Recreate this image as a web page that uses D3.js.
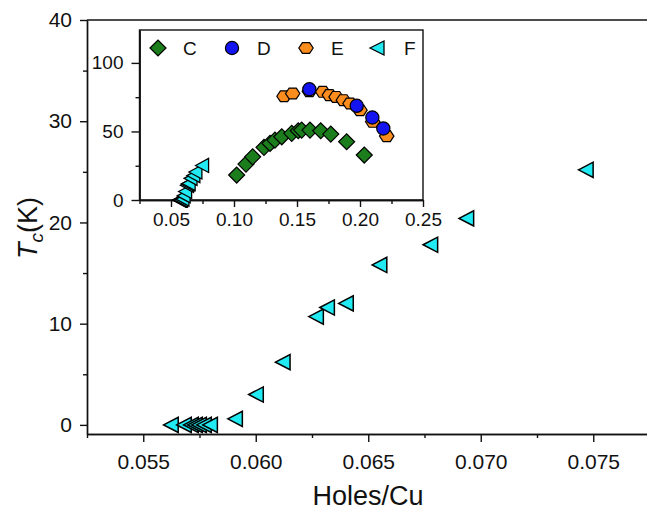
<!DOCTYPE html>
<html>
<head>
<meta charset="utf-8">
<script src="https://cdn.jsdelivr.net/npm/d3@7"></script>
<style>
  html, body { margin: 0; padding: 0; background: #fff; }
  svg { display: block; font-family: "Liberation Sans", Arial, sans-serif; }
  .axis path, .axis line { stroke: #111; stroke-width: 1.4; }
  .axis text { fill: #111; }
</style>
</head>
<body>
<svg id="chart" width="647" height="510"></svg>
<script>
// series F (main plot + inset)
const fHoles = [0.05623, 0.05681, 0.05712, 0.05730, 0.05748, 0.05770, 0.05797, 0.05908, 0.06001, 0.0612, 0.06268, 0.06317, 0.06401, 0.0655, 0.06776, 0.06936, 0.07467];
const fTc = [0, 0, 0, 0, 0, 0, 0, 0.6, 3.0, 6.2, 10.7, 11.6, 12.0, 15.8, 17.8, 20.4, 25.2];

// inset series
const cHoles = [0.1021, 0.1095, 0.1148, 0.1238, 0.1286, 0.1325, 0.1379, 0.1458, 0.1510, 0.1537, 0.1603, 0.1688, 0.1768, 0.1894, 0.2034];
const cTc = [18.2, 26.2, 31.5, 38.4, 41.3, 43.7, 46.1, 48.6, 50.5, 51.0, 51.0, 50.5, 48.1, 42.5, 32.8];
const eHoles = [0.1397, 0.1466, 0.1598, 0.1704, 0.1757, 0.1810, 0.1868, 0.1921, 0.2000, 0.2101, 0.2212];
const eTc = [75.7, 77.7, 79.4, 78.9, 76.5, 75.2, 72.8, 70.4, 65.5, 57.0, 46.6];
const dHoles = [0.1598, 0.1974, 0.2098, 0.2185];
const dTc = [80.8, 68.7, 60.2, 52.2];

const xTicks = [0.055, 0.060, 0.065, 0.070, 0.075];
const xMinor = [0.0525, 0.0575, 0.0625, 0.0675, 0.0725];
const yTicks = [0, 10, 20, 30, 40];
const yMinor = [5, 15, 25, 35];
const ixTicks = [0.05, 0.10, 0.15, 0.20, 0.25];
const ixMinor = [0.025, 0.075, 0.125, 0.175, 0.225];
const iyTicks = [0, 50, 100];
const iyMinor = [25, 75];
const legendNames = ["C", "D", "E", "F"];

const colC = "#1c7d1c", colD = "#1414f0", colE = "#fb8c1e", colF = "#22eaf2";

const svg = d3.select("#chart");

// marker shapes
function diamond(s) { return `M${-s},0L0,${-s}L${s},0L0,${s}Z`; }
function hexagon(r) {
  let p = "";
  for (let i = 0; i < 6; i++) {
    const a = Math.PI / 3 * i;
    p += (i ? "L" : "M") + (r * Math.cos(a)).toFixed(2) + "," + (r * 0.87 * Math.sin(a)).toFixed(2);
  }
  return p + "Z";
}
function triLeft(w, h) { return `M${-w},0L${w},${-h}L${w},${h}Z`; }

function pts(xs, ys) { return xs.map((d, i) => ({ x: d, y: ys[i] })); }

// ---------- main plot ----------
const x = d3.scaleLinear().domain([0.0525, 0.0775]).range([87, 649.5]);
const y = d3.scaleLinear().domain([-0.9, 40]).range([434, 20]);

svg.append("g").attr("class", "axis")
  .attr("transform", "translate(0,434)")
  .call(d3.axisBottom(x).tickValues(xMinor).tickSize(4).tickSizeOuter(0).tickFormat(""));
const gx = svg.append("g").attr("class", "axis")
  .attr("transform", "translate(0,434)")
  .call(d3.axisBottom(x).tickValues(xTicks).tickSize(8).tickSizeOuter(0).tickPadding(12).tickFormat(d3.format(".3f")));
gx.selectAll("text").attr("font-size", 21);

svg.append("g").attr("class", "axis")
  .attr("transform", "translate(87,0)")
  .call(d3.axisLeft(y).tickValues(yMinor).tickSize(4).tickSizeOuter(0).tickFormat(""));
const gy = svg.append("g").attr("class", "axis")
  .attr("transform", "translate(87,0)")
  .call(d3.axisLeft(y).tickValues(yTicks).tickSize(7).tickSizeOuter(0).tickPadding(8));
gy.selectAll("text").attr("font-size", 21);

svg.append("line")
  .attr("x1", 87).attr("x2", 650).attr("y1", 20).attr("y2", 20)
  .attr("stroke", "#111").attr("stroke-width", 1.4);

svg.selectAll(".fmain")
  .data(pts(fHoles, fTc))
  .enter().append("path")
  .attr("class", "fmain")
  .attr("d", triLeft(7.3, 7.6))
  .attr("transform", d => `translate(${x(d.x)},${y(d.y)})`)
  .attr("fill", colF).attr("stroke", "#000").attr("stroke-width", 1.5);

svg.append("text")
  .attr("x", 368).attr("y", 505)
  .attr("text-anchor", "middle").attr("font-size", 27).attr("fill", "#111")
  .text("Holes/Cu");

const yl = svg.append("text")
  .attr("transform", "translate(37,228) rotate(-90)")
  .attr("text-anchor", "middle").attr("font-size", 27).attr("fill", "#111");
yl.append("tspan").attr("font-style", "italic").text("T");
yl.append("tspan").attr("font-style", "italic").attr("font-size", 19).attr("dy", 6).text("c");
yl.append("tspan").attr("dy", -6).text("(K)");

// ---------- inset ----------
const ix = d3.scaleLinear().domain([0.025, 0.25]).range([139.5, 423]);
const iy = d3.scaleLinear().domain([0, 124]).range([200, 30]);

svg.append("rect")
  .attr("x", 139.5).attr("y", 30).attr("width", 423 - 139.5).attr("height", 170)
  .attr("fill", "#fff").attr("stroke", "#111").attr("stroke-width", 1.4);

svg.append("g").attr("class", "axis")
  .attr("transform", "translate(0,200)")
  .call(d3.axisBottom(ix).tickValues(ixMinor).tickSize(4).tickSizeOuter(0).tickFormat(""));
const igx = svg.append("g").attr("class", "axis")
  .attr("transform", "translate(0,200)")
  .call(d3.axisBottom(ix).tickValues(ixTicks).tickSize(7).tickSizeOuter(0).tickPadding(6).tickFormat(d3.format(".2f")));
igx.selectAll("text").attr("font-size", 19);

svg.append("g").attr("class", "axis")
  .attr("transform", "translate(139.5,0)")
  .call(d3.axisLeft(iy).tickValues(iyMinor).tickSize(4).tickSizeOuter(0).tickFormat(""));
const igy = svg.append("g").attr("class", "axis")
  .attr("transform", "translate(139.5,0)")
  .call(d3.axisLeft(iy).tickValues(iyTicks).tickSize(8).tickSizeOuter(0).tickPadding(8));
igy.selectAll("text").attr("font-size", 19);

svg.selectAll(".finset")
  .data(pts(fHoles, fTc))
  .enter().append("path")
  .attr("class", "finset")
  .attr("d", triLeft(6.5, 7))
  .attr("transform", d => `translate(${ix(d.x)},${iy(d.y)})`)
  .attr("fill", colF).attr("stroke", "#000").attr("stroke-width", 1.3);

svg.selectAll(".cpt")
  .data(pts(cHoles, cTc))
  .enter().append("path")
  .attr("class", "cpt")
  .attr("d", diamond(8))
  .attr("transform", d => `translate(${ix(d.x)},${iy(d.y)})`)
  .attr("fill", colC).attr("stroke", "#000").attr("stroke-width", 1.2);

svg.selectAll(".ept")
  .data(pts(eHoles, eTc))
  .enter().append("path")
  .attr("class", "ept")
  .attr("d", hexagon(7.2))
  .attr("transform", d => `translate(${ix(d.x)},${iy(d.y)})`)
  .attr("fill", colE).attr("stroke", "#000").attr("stroke-width", 1.2);

svg.selectAll(".dpt")
  .data(pts(dHoles, dTc))
  .enter().append("circle")
  .attr("class", "dpt")
  .attr("cx", d => ix(d.x)).attr("cy", d => iy(d.y)).attr("r", 6.6)
  .attr("fill", colD).attr("stroke", "#000").attr("stroke-width", 1.2);

// legend
const legX = [158, 232, 306, 377];
const leg = svg.append("g");
leg.append("path").attr("d", diamond(8)).attr("transform", `translate(${legX[0]},48)`)
  .attr("fill", colC).attr("stroke", "#000").attr("stroke-width", 1.2);
leg.append("circle").attr("cx", legX[1]).attr("cy", 48).attr("r", 6.6)
  .attr("fill", colD).attr("stroke", "#000").attr("stroke-width", 1.2);
leg.append("path").attr("d", hexagon(7.2)).attr("transform", `translate(${legX[2]},48)`)
  .attr("fill", colE).attr("stroke", "#000").attr("stroke-width", 1.2);
leg.append("path").attr("d", triLeft(7, 7)).attr("transform", `translate(${legX[3]},48)`)
  .attr("fill", colF).attr("stroke", "#000").attr("stroke-width", 1.3);
leg.selectAll("text")
  .data(legendNames)
  .enter().append("text")
  .attr("x", (d, i) => legX[i] + 25 + (i === 3 ? 2 : 0))
  .attr("y", 55)
  .attr("font-size", 19).attr("fill", "#111")
  .text(d => d);
</script>
</body>
</html>
